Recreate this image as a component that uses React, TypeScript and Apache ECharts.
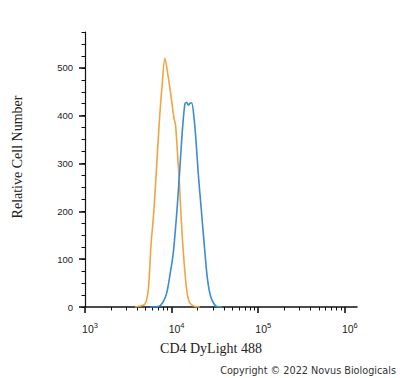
import React, { useEffect, useRef } from "react";
import * as echarts from "echarts";

// Isotype control (orange)
const isotypeIntensity = [3780, 4315, 4920, 5370, 5780, 6250, 6710, 7190, 7800, 8375, 9140, 10000, 10640, 11070, 11430, 11830, 12250, 13060, 14260, 15240, 16290, 18580, 21230];
const isotypeCount = [0, 2, 6, 35, 129, 203, 293, 384, 468, 520, 481, 432, 395, 382, 349, 307, 265, 167, 71, 25, 8, 1, 0];

// CD4 DyLight 488 (blue)
const cd4Intensity = [5620, 7015, 7940, 8770, 9570, 10450, 11610, 12470, 13400, 14260, 14890, 15630, 16290, 17020, 18110, 19100, 20280, 22180, 24270, 25590, 27160, 29170, 33110, 38110];
const cd4Count = [0, 1, 10, 29, 67, 113, 210, 293, 376, 425, 428, 422, 426, 427, 397, 349, 280, 196, 113, 67, 35, 15, 1, 0];

const xMajorExponents = [3, 4, 5, 6];
const xMinorMultipliers = [2, 3, 4, 5, 6, 7, 8, 9];
const yMajorTicks = [0, 100, 200, 300, 400, 500];
const yMinorStep = 25;
const yMax = 575;
const xMaxExp = 6.14;

export default function App() {
  const ref = useRef<HTMLDivElement>(null);
  useEffect(() => {
    if (!ref.current) return;
    const chart = echarts.init(ref.current, null, { renderer: "svg" });
    const xMinor: number[] = [];
    for (let e = 3; e < 6; e++) xMinorMultipliers.forEach((m) => xMinor.push(Math.log10(m * Math.pow(10, e))));
    const yMinor: number[] = [];
    for (let v = 0; v <= yMax; v += yMinorStep) yMinor.push(v);
    const toPairs = (xs: number[], ys: number[]) => xs.map((x, i) => [Math.log10(x), ys[i]]);
    const black = "#111";
    chart.setOption({
      animation: false,
      backgroundColor: "#fff",
      grid: { left: 85, top: 32, right: 43, bottom: 71 },
      xAxis: [
        {
          type: "value", min: 3, max: xMaxExp, position: "bottom",
          axisLine: { show: true, lineStyle: { color: black, width: 1.6 } },
          axisTick: { show: true, customValues: xMajorExponents, length: 6, lineStyle: { color: black, width: 1.6 } },
          axisLabel: {
            customValues: xMajorExponents, margin: 14, padding: [0, 0, 0, 10],
            formatter: (v: number) => `{b|10}{s|${Math.round(v)}}`,
            rich: {
              b: { fontFamily: "Liberation Sans", fontSize: 10.5, color: "#222" },
              s: { fontFamily: "Liberation Sans", fontSize: 7.5, color: "#222", padding: [0, 0, 7, 0] },
            },
          },
          splitLine: { show: false },
        },
        {
          type: "value", min: 3, max: xMaxExp, position: "bottom",
          axisLine: { show: false },
          axisTick: { show: true, customValues: xMinor, length: 3.5, lineStyle: { color: black, width: 1 } },
          axisLabel: { show: false },
          splitLine: { show: false },
        },
      ],
      yAxis: [
        {
          type: "value", min: 0, max: yMax, position: "left",
          axisLine: { show: true, lineStyle: { color: black, width: 1.2 } },
          axisTick: { show: true, customValues: yMajorTicks, length: 6, lineStyle: { color: black, width: 1.5 } },
          axisLabel: { customValues: yMajorTicks, margin: 12, fontFamily: "Liberation Sans", fontSize: 9.5, color: "#222" },
          splitLine: { show: false },
        },
        {
          type: "value", min: 0, max: yMax, position: "left",
          axisLine: { show: false },
          axisTick: { show: true, customValues: yMinor, length: 3.5, lineStyle: { color: black, width: 1 } },
          axisLabel: { show: false },
          splitLine: { show: false },
        },
      ],
      series: [
        {
          type: "line", xAxisIndex: 0, yAxisIndex: 0, data: toPairs(isotypeIntensity, isotypeCount),
          showSymbol: false, smooth: 0.3, lineStyle: { color: "#F2A443", width: 1.6 }, z: 3,
        },
        {
          type: "line", xAxisIndex: 0, yAxisIndex: 0, data: toPairs(cd4Intensity, cd4Count),
          showSymbol: false, smooth: 0.3, lineStyle: { color: "#3A8DD3", width: 1.6 }, z: 4,
        },
      ],
      graphic: [
        {
          type: "text", x: 17, y: 157, rotation: Math.PI / 2,
          style: { text: "Relative Cell Number", fontFamily: "Liberation Serif", fontSize: 14, fill: "#222", align: "center", verticalAlign: "middle" },
        },
        {
          type: "text", x: 211, y: 348,
          style: { text: "CD4 DyLight 488", fontFamily: "Liberation Serif", fontSize: 14, fill: "#222", align: "center", verticalAlign: "middle" },
        },
        {
          type: "text", x: 396, y: 370,
          style: { text: "Copyright \u00A9 2022 Novus Biologicals", fontFamily: "DejaVu Sans", fontSize: 9.7, fill: "#333", align: "right", verticalAlign: "middle" },
        },
      ],
    });
    return () => chart.dispose();
  }, []);
  return <div ref={ref} style={{ width: 400, height: 378, position: "absolute", left: 0, top: 0 }} />;
}
